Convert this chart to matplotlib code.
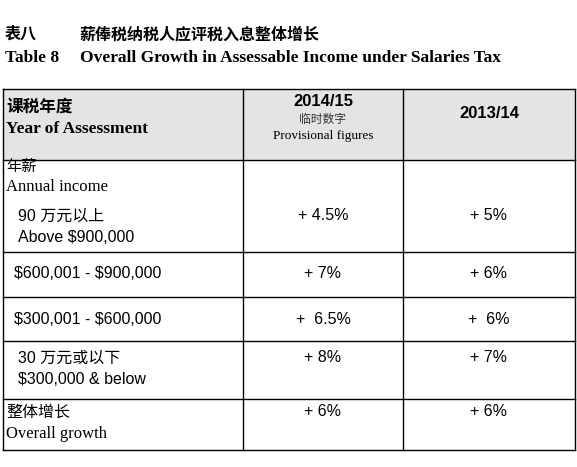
import matplotlib
matplotlib.use("Agg")
import matplotlib.pyplot as plt
from matplotlib.patches import Rectangle

plt.rcParams["text.parse_math"] = False  # i "$" sono testo normale

# ------------------------------
# Dati della tabella
# ------------------------------
title_cn = "薪俸税纳税人应评税入息整体增长"
title_en = "Overall Growth in Assessable Income under Salaries Tax"
col_years = ["2014/15", "2013/14"]
row_cn = ["90 万元以上", "", "", "30 万元或以下", "整体增长"]
row_en = ["Above $900,000", "$600,001 - $900,000", "$300,001 - $600,000",
          "$300,000 & below", "Overall growth"]
growth_1415 = ["+ 4.5%", "+ 7%", "+  6.5%", "+ 8%", "+ 6%"]
growth_1314 = ["+ 5%", "+ 6%", "+  6%", "+ 7%", "+ 6%"]

CJK = ["Noto Sans CJK SC", "DejaVu Sans"]
SANS = ["Liberation Sans", "Noto Sans CJK SC"]
SERIF = ["Liberation Serif"]

fig = plt.figure(figsize=(5.77, 4.67), dpi=100)
ax = fig.add_axes([0, 0, 1, 1])
ax.set_xlim(0, 577)
ax.set_ylim(467, 0)
ax.axis("off")

# titoli
ax.text(5, 34, "表八", family=CJK, fontsize=11.5, weight="bold", va="center")
ax.text(80, 34, title_cn, family=CJK, fontsize=11.5, weight="bold", va="center")
ax.text(5, 58, "Table 8", family=SERIF, fontsize=12.5, weight="bold", va="center")
ax.text(80, 58, title_en, family=SERIF, fontsize=12.5, weight="bold", va="center")

# griglia
x0, x1, x2, x3 = 3, 243, 403, 575
row_y = [89, 160, 252, 297, 341, 399, 450]
ax.add_patch(Rectangle((x0, row_y[0]), x3 - x0, row_y[1] - row_y[0],
                       facecolor="#e4e4e4", edgecolor="none"))
for y in row_y:
    ax.plot([x0, x3], [y, y], color="black", lw=1)
for x in [x0, x1, x2, x3]:
    ax.plot([x, x], [row_y[0], row_y[-1]], color="black", lw=1)

# intestazione
ax.text(6, 107, "课税年度", family=CJK, fontsize=12, weight="bold", va="center")
ax.text(6, 129, "Year of Assessment", family=SERIF, fontsize=12.5, weight="bold", va="center")
ax.text((x1 + x2) / 2, 102, col_years[0], family=SANS, fontsize=12, weight="bold",
        ha="center", va="center")
ax.text((x1 + x2) / 2, 119, "临时数字", family=CJK, fontsize=8.5, color="#333333",
        ha="center", va="center")
ax.text((x1 + x2) / 2, 136, "Provisional figures", family=SERIF, fontsize=9.5,
        ha="center", va="center")
ax.text((x2 + x3) / 2, 114, col_years[1], family=SANS, fontsize=12, weight="bold",
        ha="center", va="center")

# sottotitolo "Annual income"
ax.text(6, 166, "年薪", family=CJK, fontsize=11, va="center")
ax.text(6, 187, "Annual income", family=SERIF, fontsize=12, va="center")

# righe dei dati
cy = [227, 274, 319, 369, 423]
for i in range(5):
    if row_cn[i]:
        lx = 6 if i == 4 else 18
        ax.text(lx, cy[i] - 11, row_cn[i], family=CJK if i == 4 else SANS,
                fontsize=11.5, va="center")
        fam = SERIF if i == 4 else SANS
        ax.text(lx, cy[i] + 11, row_en[i], family=fam, fontsize=12 if i == 4 else 11.5,
                va="center")
        vy = cy[i] - 12
    else:
        ax.text(14, cy[i], row_en[i], family=SANS, fontsize=11.5, va="center")
        vy = cy[i]
    ax.text((x1 + x2) / 2, vy, growth_1415[i], family=SANS, fontsize=11.5,
            ha="center", va="center")
    ax.text((x2 + x3) / 2, vy, growth_1314[i], family=SANS, fontsize=11.5,
            ha="center", va="center")

fig.savefig("out.png", dpi=100)
